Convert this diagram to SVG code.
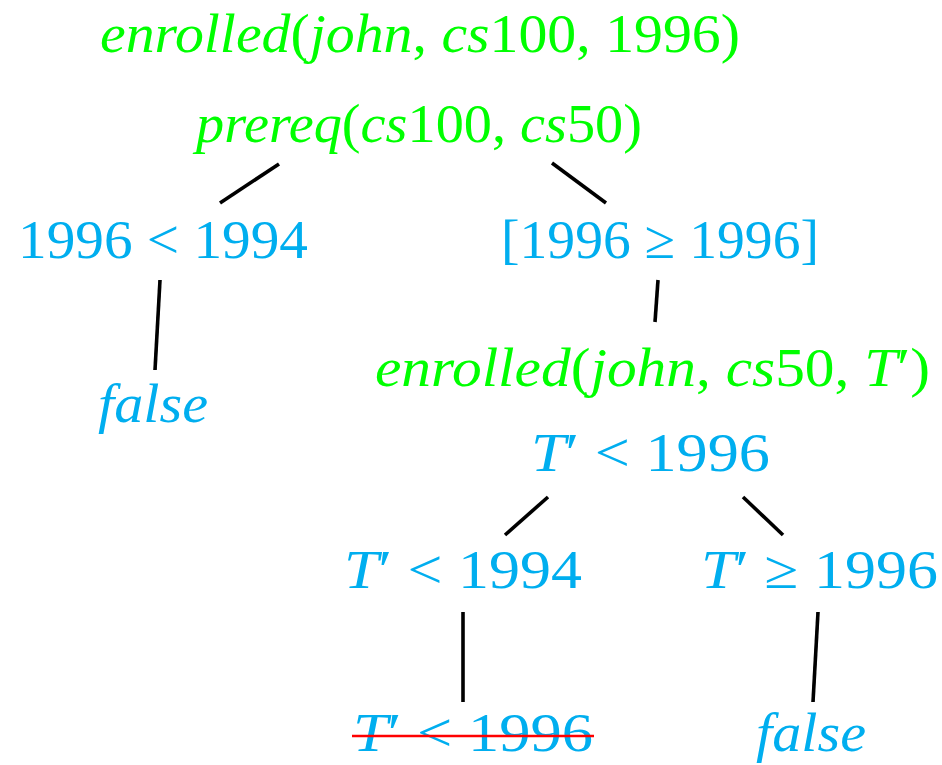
<svg xmlns="http://www.w3.org/2000/svg" width="942" height="765" viewBox="0 0 942 765">
<style>
text{font-family:"Liberation Serif","Times New Roman",serif;font-size:54px;}
.g{fill:#00ff00;}
.b{fill:#00aeef;}
.i{font-style:italic;}
.e{stroke:#000;stroke-width:3.6;fill:none;}
</style>
<rect width="942" height="765" fill="#fff"/>
<g id="n1"><text class="g" x="100" y="52" textLength="640" lengthAdjust="spacingAndGlyphs"><tspan class="i">enrolled</tspan>(<tspan class="i">john</tspan>, <tspan class="i">cs</tspan>100, 1996)</text></g>
<g id="n2"><text class="g" x="196" y="142" textLength="446" lengthAdjust="spacingAndGlyphs"><tspan class="i">prereq</tspan>(<tspan class="i">cs</tspan>100, <tspan class="i">cs</tspan>50)</text></g>
<g id="n3"><text class="b" x="18" y="258" textLength="290" lengthAdjust="spacingAndGlyphs">1996 &lt; 1994</text></g>
<g id="n4"><text class="b" x="501" y="258" textLength="318" lengthAdjust="spacingAndGlyphs">[1996 ≥ 1996]</text></g>
<g id="n5"><text class="b i" x="98" y="422" textLength="110" lengthAdjust="spacingAndGlyphs">false</text></g>
<g id="n6"><text class="g" x="375" y="386" textLength="555" lengthAdjust="spacingAndGlyphs"><tspan class="i">enrolled</tspan>(<tspan class="i">john</tspan>, <tspan class="i">cs</tspan>50, <tspan class="i">T</tspan>′)</text></g>
<g id="n7"><text class="b" x="531" y="471" textLength="239" lengthAdjust="spacingAndGlyphs"><tspan class="i">T</tspan>′ &lt; 1996</text></g>
<g id="n8"><text class="b" x="344" y="588" textLength="238" lengthAdjust="spacingAndGlyphs"><tspan class="i">T</tspan>′ &lt; 1994</text></g>
<g id="n9"><text class="b" x="701" y="588" textLength="237" lengthAdjust="spacingAndGlyphs"><tspan class="i">T</tspan>′ ≥ 1996</text></g>
<g id="n10"><text class="b" x="353" y="751" textLength="240" lengthAdjust="spacingAndGlyphs"><tspan class="i">T</tspan>′ &lt; 1996</text><line x1="352" y1="736" x2="594" y2="736" stroke="#ff0000" stroke-width="2.5"/></g>
<g id="n11"><text class="b i" x="756" y="751" textLength="110" lengthAdjust="spacingAndGlyphs">false</text></g>
<g id="edges">
<line class="e" x1="279" y1="164" x2="220" y2="203"/>
<line class="e" x1="552" y1="163" x2="606" y2="203"/>
<line class="e" x1="160" y1="280" x2="155" y2="370"/>
<line class="e" x1="658" y1="280" x2="655" y2="322"/>
<line class="e" x1="548" y1="497" x2="505" y2="535"/>
<line class="e" x1="743" y1="497" x2="783" y2="535"/>
<line class="e" x1="463" y1="612" x2="463" y2="702"/>
<line class="e" x1="818" y1="612" x2="813" y2="702"/>
</g>
</svg>
